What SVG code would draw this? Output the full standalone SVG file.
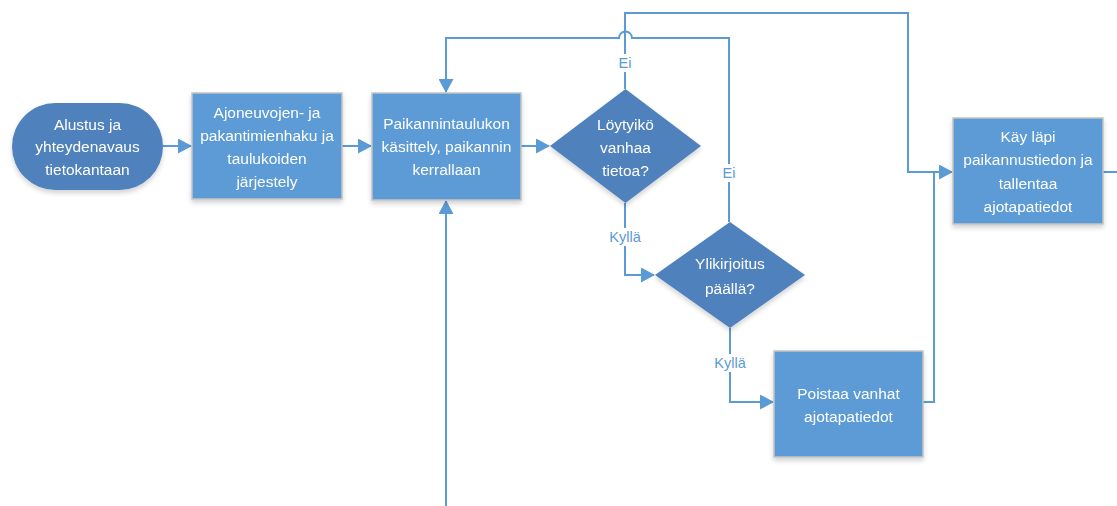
<svg xmlns="http://www.w3.org/2000/svg" width="1117" height="506" viewBox="0 0 1117 506">
<style>
.box{fill:#5B9BD5;stroke:#C4C4C4;stroke-width:1.5}
.dk{fill:#4F81BD}
.t{font-family:"Liberation Sans",Arial,sans-serif;font-size:15.5px;fill:#FFFFFF;text-anchor:middle}
.lbl{font-family:"Liberation Sans",Arial,sans-serif;font-size:14.5px;fill:#5B9BD5;text-anchor:middle}
.c{fill:none;stroke:#5B9BD5;stroke-width:2}
</style>
<defs>
<marker id="ah" markerWidth="15" markerHeight="15" refX="13" refY="7.5" orient="auto" markerUnits="userSpaceOnUse">
<path d="M0,0 L14,7.5 L0,15 Z" fill="#5B9BD5"/>
</marker>
<filter id="sh" x="-10%" y="-10%" width="120%" height="130%">
<feGaussianBlur in="SourceAlpha" stdDeviation="2.5"/>
<feOffset dy="3"/>
<feComponentTransfer><feFuncA type="linear" slope="0.18"/></feComponentTransfer>
<feMerge><feMergeNode/><feMergeNode in="SourceGraphic"/></feMerge>
</filter>
</defs>
<rect width="1117" height="506" fill="#FFFFFF"/>
<g id="connectors">
<path class="c" d="M163,146 L191,146" marker-end="url(#ah)"/>
<path class="c" d="M342,146 L371,146" marker-end="url(#ah)"/>
<path class="c" d="M521,146 L549,146" marker-end="url(#ah)"/>
<path class="c" d="M625,89 L625,13 L908,13 L908,172 L952,172" marker-end="url(#ah)"/>
<path class="c" d="M729,222 L729,38 L632,38 A6,6 0 0 0 619,38 L446,38 L446,92" marker-end="url(#ah)"/>
<path class="c" d="M625,203 L625,275 L654,275" marker-end="url(#ah)"/>
<path class="c" d="M730,328 L730,402 L773,402" marker-end="url(#ah)"/>
<path class="c" d="M923,402 L934,402 L934,172"/>
<path class="c" d="M446,506 L446,201" marker-end="url(#ah)"/>
<path class="c" d="M1103,172 L1117,172"/>
<rect x="612" y="54" width="26" height="18" fill="#FFFFFF"/>
<text class="lbl" x="625" y="68">Ei</text>
<rect x="716" y="164" width="26" height="18" fill="#FFFFFF"/>
<text class="lbl" x="729" y="178">Ei</text>
<rect x="604" y="228" width="42" height="18" fill="#FFFFFF"/>
<text class="lbl" x="625" y="242">Kyllä</text>
<rect x="709" y="354" width="42" height="18" fill="#FFFFFF"/>
<text class="lbl" x="730" y="368">Kyllä</text>
</g>
<g id="start" filter="url(#sh)">
<rect class="dk" x="12" y="103" width="151" height="87" rx="43.5"/>
<text class="t" x="87.5" y="130">Alustus ja</text>
<text class="t" x="87.5" y="152">yhteydenavaus</text>
<text class="t" x="87.5" y="175">tietokantaan</text>
</g>
<g id="haku" filter="url(#sh)">
<rect class="box" x="192" y="93" width="150" height="106"/>
<text class="t" x="267" y="118">Ajoneuvojen- ja</text>
<text class="t" x="267" y="141">pakantimienhaku ja</text>
<text class="t" x="267" y="164">taulukoiden</text>
<text class="t" x="267" y="187">järjestely</text>
</g>
<g id="kasittely" filter="url(#sh)">
<rect class="box" x="372" y="93" width="149" height="107"/>
<text class="t" x="446.5" y="129">Paikannintaulukon</text>
<text class="t" x="446.5" y="152">käsittely, paikannin</text>
<text class="t" x="446.5" y="175">kerrallaan</text>
</g>
<g id="loytyiko" filter="url(#sh)">
<polygon class="dk" points="625.5,89 701,146 625.5,203 550,146"/>
<text class="t" x="625.5" y="130">Löytyikö</text>
<text class="t" x="625.5" y="153">vanhaa</text>
<text class="t" x="625.5" y="176">tietoa?</text>
</g>
<g id="ylikirjoitus" filter="url(#sh)">
<polygon class="dk" points="730,222 805,275 730,328 655,275"/>
<text class="t" x="730" y="269">Ylikirjoitus</text>
<text class="t" x="730" y="294">päällä?</text>
</g>
<g id="poistaa" filter="url(#sh)">
<rect class="box" x="774" y="351" width="149" height="106"/>
<text class="t" x="848.5" y="399">Poistaa vanhat</text>
<text class="t" x="848.5" y="422">ajotapatiedot</text>
</g>
<g id="kay" filter="url(#sh)">
<rect class="box" x="953" y="118" width="150" height="106"/>
<text class="t" x="1028" y="142">Käy läpi</text>
<text class="t" x="1028" y="165">paikannustiedon ja</text>
<text class="t" x="1028" y="189">tallentaa</text>
<text class="t" x="1028" y="212">ajotapatiedot</text>
</g>
</svg>
